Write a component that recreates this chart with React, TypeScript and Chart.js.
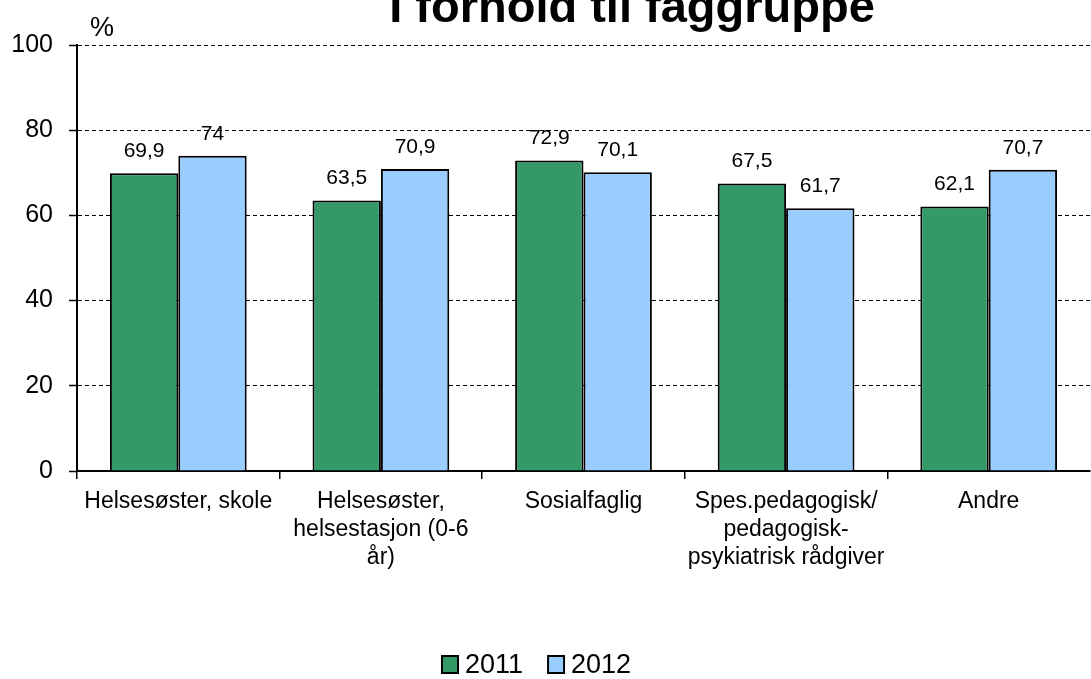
import React, { useEffect, useRef } from "react";
import { Chart, registerables } from "chart.js";

Chart.register(...registerables);

const titleText = "I forhold til faggruppe";
const unitLabel = "%";
const categories: string[][] = [
  ["Helsesøster, skole"],
  ["Helsesøster,", "helsestasjon (0-6", "år)"],
  ["Sosialfaglig"],
  ["Spes.pedagogisk/", "pedagogisk-", "psykiatrisk rådgiver"],
  ["Andre"],
];
const seriesNames = ["2011", "2012"];
const values2011 = [69.9, 63.5, 72.9, 67.5, 62.1];
const values2012 = [74, 70.9, 70.1, 61.7, 70.7];
const yMin = 0;
const yMax = 100;
const yStep = 20;

const FONT = "Arial, 'Liberation Sans', sans-serif";
const GREEN = "#339966";
const BLUE = "#99CCFF";

const fmt = (v: number) => String(v).replace(".", ",");

const overlayPlugin = {
  id: "overlay",
  afterDatasetsDraw(chart: any) {
    const ctx = chart.ctx;
    ctx.save();
    // data labels
    ctx.fillStyle = "#000";
    ctx.font = `21px ${FONT}`;
    ctx.textAlign = "center";
    ctx.textBaseline = "middle";
    chart.data.datasets.forEach((ds: any, di: number) => {
      const meta = chart.getDatasetMeta(di);
      meta.data.forEach((bar: any, i: number) => {
        ctx.fillText(fmt(ds.data[i]), bar.x, bar.y - 22);
      });
    });
    // title
    ctx.font = `bold 47px ${FONT}`;
    ctx.textAlign = "center";
    ctx.textBaseline = "alphabetic";
    ctx.fillText(titleText, 632, 22);
    // unit label
    ctx.font = `27px ${FONT}`;
    ctx.textBaseline = "middle";
    ctx.fillText(unitLabel, 102, 29);
    // legend
    ctx.font = `27px ${FONT}`;
    ctx.textAlign = "left";
    let x = 442;
    const y = 665;
    chart.data.datasets.forEach((ds: any) => {
      ctx.fillStyle = ds.backgroundColor;
      ctx.fillRect(x, y - 9, 16, 17);
      ctx.strokeStyle = "#000";
      ctx.lineWidth = 2;
      ctx.strokeRect(x, y - 9, 16, 17);
      ctx.fillStyle = "#000";
      ctx.fillText(ds.label, x + 23, y + 1);
      x += 23 + ctx.measureText(ds.label).width + 25;
    });
    ctx.restore();
  },
};

export default function App() {
  const canvasRef = useRef<HTMLCanvasElement | null>(null);

  useEffect(() => {
    if (!canvasRef.current) return;
    Chart.defaults.font.family = FONT;
    const chart = new Chart(canvasRef.current, {
      type: "bar",
      data: {
        labels: categories,
        datasets: [
          {
            label: seriesNames[0],
            data: values2011,
            backgroundColor: GREEN,
            borderColor: "#000",
            borderWidth: 2,
            categoryPercentage: 0.675,
            barPercentage: 1,
          },
          {
            label: seriesNames[1],
            data: values2012,
            backgroundColor: BLUE,
            borderColor: "#000",
            borderWidth: 2,
            categoryPercentage: 0.675,
            barPercentage: 1,
          },
        ],
      },
      options: {
        responsive: false,
        animation: false,
        devicePixelRatio: 1,
        layout: { padding: { top: 45, left: 0, right: 10, bottom: 0 } },
        plugins: {
          legend: { display: false },
          title: { display: false },
          tooltip: { enabled: false },
        },
        scales: {
          x: {
            afterFit: (scale: any) => {
              scale.height = 208;
            },
            grid: {
              drawOnChartArea: false,
              drawTicks: true,
              tickLength: 8,
              color: "#000",
              lineWidth: 1.5,
              tickColor: (c: any) => (c.type === "tick" ? "#000" : "rgba(0,0,0,0)"),
            },
            border: { display: true, color: "#000", width: 2 },
            ticks: {
              color: "#000",
              font: { size: 23, family: FONT, lineHeight: 1.22 },
              padding: 9,
              maxRotation: 0,
              minRotation: 0,
              autoSkip: false,
            },
          },
          y: {
            min: yMin,
            max: yMax,
            afterFit: (scale: any) => {
              scale.width = 77;
            },
            grid: {
              color: "#000",
              lineWidth: 1,
              tickLength: 8,
              tickWidth: 1.5,
              tickColor: "#000",
            },
            border: { display: true, color: "#000", width: 2, dash: [4, 3] },
            ticks: {
              stepSize: yStep,
              color: "#000",
              font: { size: 25, family: FONT },
              padding: 16,
            },
          },
        },
      },
      plugins: [overlayPlugin],
    } as any);
    return () => chart.destroy();
  }, []);

  return (
    <div
      style={{
        position: "absolute",
        left: 0,
        top: 0,
        width: 1091,
        height: 679,
        overflow: "hidden",
        background: "#fff",
      }}
    >
      <canvas ref={canvasRef} width={1100} height={679} style={{ display: "block" }} />
    </div>
  );
}
